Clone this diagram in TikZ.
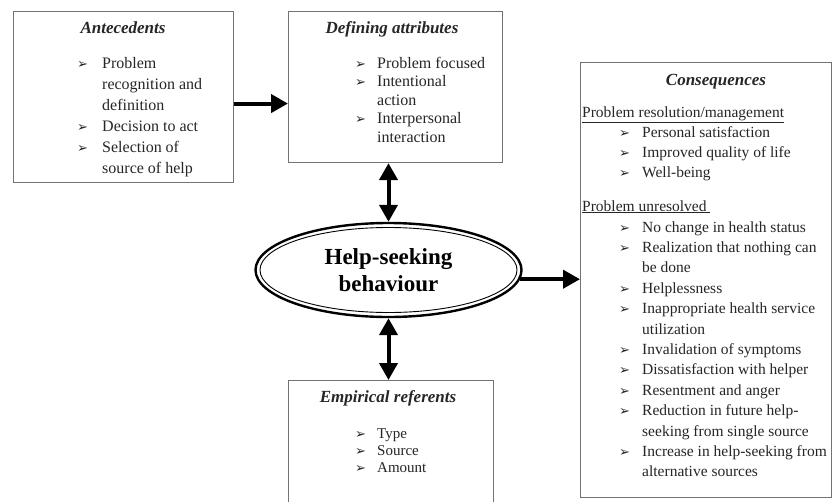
\documentclass[tikz,border=0pt]{standalone}
\usepackage{fontspec}
\setmainfont{Liberation Serif}
\newfontfamily\symfont{DejaVu Sans}
\usetikzlibrary{shapes.geometric,arrows.meta}
\newcommand{\bul}[1][22pt]{\makebox[#1][l]{\symfont\fontsize{13}{13}\selectfont\char"27A2}}

\begin{document}
\begin{tikzpicture}[x=1pt, y=-1pt,
    box/.style={draw=black!55, line width=1.1pt, anchor=north west, inner sep=0pt},
    ttl/.style={anchor=base, font=\fontsize{17}{20}\selectfont\bfseries\itshape, text=black!85},
    lst/.style={anchor=base west, inner sep=0pt, text=black!85},
    hsb/.style={ellipse, draw, line width=2.4pt, minimum width=266pt, minimum height=94pt,
        inner sep=0pt, align=center, font=\fontsize{23}{27}\selectfont\bfseries},
    fat/.style={line width=4pt, -{Triangle[length=17pt,width=18pt]}},
    fatboth/.style={line width=4pt, {Triangle[length=17pt,width=18pt]}-{Triangle[length=17pt,width=18pt]}}]

    \useasboundingbox[fill=white] (0,0) rectangle (833,501);

    % Antecedents
    \node[box, minimum width=220pt, minimum height=171pt] (ante) at (13,11) {};
    \node[ttl] (anteT) at (123,33) {Antecedents};
    \node[lst, font=\fontsize{16}{21}\selectfont] (anteL) at (77,68) {\begin{tabular}[t]{@{}l@{}l@{}}
        \bul[25pt] & Problem\\ & recognition and\\ & definition\\
        \bul[25pt] & Decision to act\\
        \bul[25pt] & Selection of\\ & source of help
    \end{tabular}};

    % Defining attributes
    \node[box, minimum width=214pt, minimum height=151pt] (def) at (288,11) {};
    \node[ttl] (defT) at (392,33) {Defining attributes};
    \node[lst, font=\fontsize{16}{18.5}\selectfont] (defL) at (355,68) {\begin{tabular}[t]{@{}l@{}l@{}}
        \bul & Problem focused\\
        \bul & Intentional\\ & action\\
        \bul & Interpersonal\\ & interaction
    \end{tabular}};

    % Help-seeking behaviour
    \node[hsb] (help) at (388.5,270) {Help-seeking\\behaviour};
    \draw[line width=0.9pt] (help.center) ellipse [x radius=128.5pt, y radius=42.5pt];

    % Empirical referents
    \node[box, minimum width=205pt, minimum height=130pt] (emp) at (288,380) {};
    \node[ttl] (empT) at (388,402) {Empirical referents};
    \node[lst, font=\fontsize{15}{17}\selectfont] (empL) at (355,438) {\begin{tabular}[t]{@{}l@{}l@{}}
        \bul & Type\\
        \bul & Source\\
        \bul & Amount
    \end{tabular}};

    % Consequences
    \node[box, minimum width=251pt, minimum height=435pt] (cons) at (580,62) {};
    \node[ttl] (consT) at (716,85) {Consequences};
    \node[lst, font=\fontsize{15.5}{20.3}\selectfont] (consH1) at (582,117) {\underline{Problem resolution/management}};
    \node[lst, font=\fontsize{15.5}{20.3}\selectfont] (consL1) at (619,137) {\begin{tabular}[t]{@{}l@{}l@{}}
        \bul[23pt] & Personal satisfaction\\
        \bul[23pt] & Improved quality of life\\
        \bul[23pt] & Well-being
    \end{tabular}};
    \node[lst, font=\fontsize{15.5}{20.3}\selectfont] (consH2) at (582,211) {\underline{Problem unresolved\ }};
    \node[lst, font=\fontsize{15.5}{20.4}\selectfont] (consL2) at (619,232) {\begin{tabular}[t]{@{}l@{}l@{}}
        \bul[23pt] & No change in health status\\
        \bul[23pt] & Realization that nothing can\\ & be done\\
        \bul[23pt] & Helplessness\\
        \bul[23pt] & Inappropriate health service\\ & utilization\\
        \bul[23pt] & Invalidation of symptoms\\
        \bul[23pt] & Dissatisfaction with helper\\
        \bul[23pt] & Resentment and anger\\
        \bul[23pt] & Reduction in future help-\\ & seeking from single source\\
        \bul[23pt] & Increase in help-seeking from\\ & alternative sources
    \end{tabular}};

    % Connectors
    \draw[fat] ([yshift=-6.5pt]ante.east) -- ([yshift=-16.5pt]def.west);
    \draw[fatboth] (help.north) -- (help.north |- def.south);
    \draw[fatboth] (help.south) -- (help.south |- emp.north);
    \draw[fat] (help.-4) -- (help.-4 -| cons.west);
\end{tikzpicture}
\end{document}
